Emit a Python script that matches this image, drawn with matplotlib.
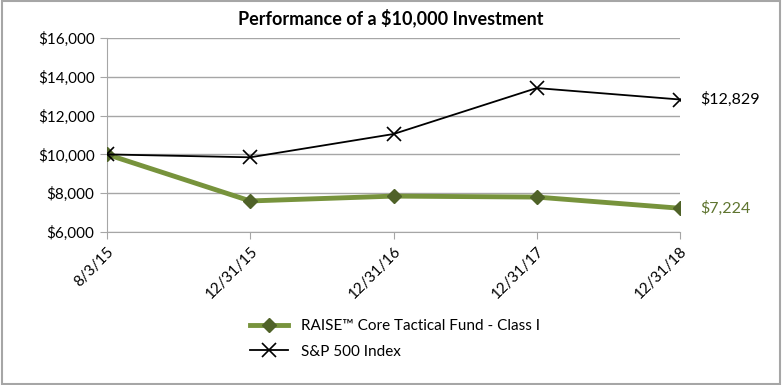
import matplotlib.pyplot as plt
from matplotlib.patches import Rectangle

plt.rcParams['font.family'] = ['Lato', 'DejaVu Sans']

dates = ['8/3/15', '12/31/15', '12/31/16', '12/31/17', '12/31/18']
fund = [10000, 7600, 7850, 7800, 7224]
sp500 = [10000, 9850, 11050, 13420, 12829]
yticks = [6000, 8000, 10000, 12000, 14000, 16000]

fig = plt.figure(figsize=(7.82, 3.85), dpi=100)
ax = fig.add_axes([107/782, 1 - 232/385, (680-107)/782, (232-38)/385])

x = list(range(len(dates)))
ax.plot(x, fund, color='#77933c', lw=3.5, marker='D', ms=7,
        mfc='#4f6228', mec='#4f6228', label='RAISE\u2122 Core Tactical Fund - Class I', zorder=3)
ax.plot(x, sp500, color='black', lw=1.3, marker='x', ms=10, mew=1.2,
        label='S&P 500 Index', zorder=4)

ax.set_xlim(0, len(dates) - 1)
ax.set_ylim(6000, 16000)
ax.set_yticks(yticks)
ax.set_yticklabels(['${:,}'.format(v) for v in yticks], fontsize=11)
ax.set_xticks(x)
ax.set_xticklabels(dates, rotation=45, ha='right', rotation_mode='anchor', fontsize=11)
ax.grid(axis='y', color='#a6a6a6', lw=1)
ax.set_axisbelow(True)
for s in ['top', 'right']:
    ax.spines[s].set_visible(False)
for s in ['left', 'bottom']:
    ax.spines[s].set_color('#a6a6a6')
ax.tick_params(colors='#a6a6a6', labelcolor='black', length=5, pad=4)

ax.text(len(dates) - 1 + 0.14, sp500[-1], '${:,}'.format(sp500[-1]), va='center',
        fontsize=11.5, color='black')
ax.text(len(dates) - 1 + 0.14, fund[-1], '${:,}'.format(fund[-1]), va='center',
        fontsize=11.5, color='#5f7530')

fig.text(0.5, 0.953, 'Performance of a $10,000 Investment', ha='center', va='center',
         fontsize=13, fontweight='bold')

fig.legend(loc='center', bbox_to_anchor=(0.505, 1 - 339/385), frameon=False, fontsize=11,
           handlelength=2.5, labelspacing=0.75)

fig.patches.append(Rectangle((0.002, 0.003), 0.996, 0.994, transform=fig.transFigure,
                             fill=False, ec='#a6a6a6', lw=1.5))

fig.savefig('out.png', dpi=100)
